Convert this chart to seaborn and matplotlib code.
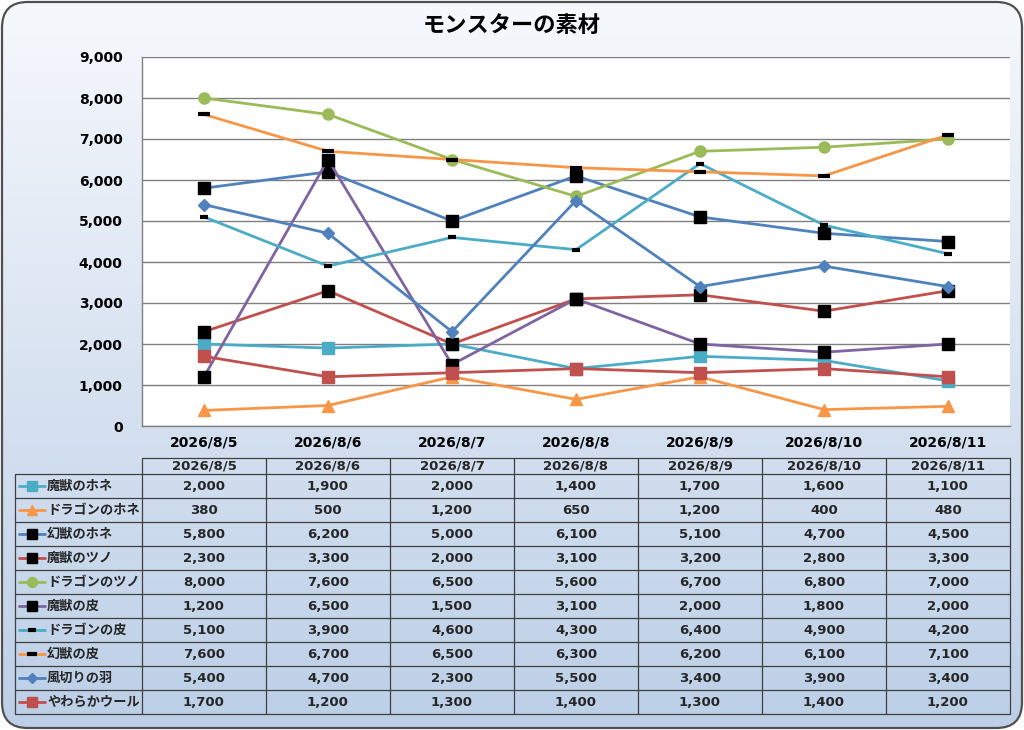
import numpy as np
import pandas as pd
import matplotlib
matplotlib.use("Agg")
import matplotlib.pyplot as plt
from matplotlib.patches import FancyBboxPatch
from matplotlib.ticker import FuncFormatter
from matplotlib.colors import LinearSegmentedColormap
import seaborn as sns

sns.set_theme(style="white")
plt.rcParams['font.family'] = ['Noto Sans CJK JP', 'DejaVu Sans']

title = "モンスターの素材"
dates = ["2026/8/5", "2026/8/6", "2026/8/7", "2026/8/8", "2026/8/9", "2026/8/10", "2026/8/11"]
series_names = ["魔獣のホネ", "ドラゴンのホネ", "幻獣のホネ", "魔獣のツノ", "ドラゴンのツノ",
                "魔獣の皮", "ドラゴンの皮", "幻獣の皮", "風切りの羽", "やわらかウール"]
majuu_hone = [2000, 1900, 2000, 1400, 1700, 1600, 1100]
dragon_hone = [380, 500, 1200, 650, 1200, 400, 480]
genjuu_hone = [5800, 6200, 5000, 6100, 5100, 4700, 4500]
majuu_tsuno = [2300, 3300, 2000, 3100, 3200, 2800, 3300]
dragon_tsuno = [8000, 7600, 6500, 5600, 6700, 6800, 7000]
majuu_kawa = [1200, 6500, 1500, 3100, 2000, 1800, 2000]
dragon_kawa = [5100, 3900, 4600, 4300, 6400, 4900, 4200]
genjuu_kawa = [7600, 6700, 6500, 6300, 6200, 6100, 7100]
kazekiri_hane = [5400, 4700, 2300, 5500, 3400, 3900, 3400]
yawaraka_wool = [1700, 1200, 1300, 1400, 1300, 1400, 1200]
values = [majuu_hone, dragon_hone, genjuu_hone, majuu_tsuno, dragon_tsuno,
          majuu_kawa, dragon_kawa, genjuu_kawa, kazekiri_hane, yawaraka_wool]

TEAL, ORANGE, BLUE, RED, GREEN, PURPLE = "#4bacc6", "#f79646", "#4f81bd", "#c0504d", "#9bbb59", "#8064a2"
styles = [
    dict(color=TEAL, marker="s", ms=8, mfc=TEAL, mec=TEAL, mew=1),
    dict(color=ORANGE, marker="^", ms=8, mfc=ORANGE, mec=ORANGE, mew=1),
    dict(color=BLUE, marker="s", ms=8, mfc="black", mec="black", mew=1),
    dict(color=RED, marker="s", ms=8, mfc="black", mec="black", mew=1),
    dict(color=GREEN, marker="o", ms=8, mfc=GREEN, mec=GREEN, mew=1),
    dict(color=PURPLE, marker="s", ms=8, mfc="black", mec="black", mew=1),
    dict(color=TEAL, marker="_", ms=6, mfc="black", mec="black", mew=3),
    dict(color=ORANGE, marker="_", ms=8, mfc="black", mec="black", mew=3),
    dict(color=BLUE, marker="D", ms=6, mfc=BLUE, mec=BLUE, mew=1),
    dict(color=RED, marker="s", ms=8, mfc=RED, mec=RED, mew=1),
]

NUMFONT = dict(family=["DejaVu Sans"], fontweight="bold", fontsize=9.5)

W, H = 1024, 730
fig = plt.figure(figsize=(W / 100, H / 100), dpi=100)
fig.patch.set_facecolor("white")

def fa(l, t, r, b):
    return [l / W, 1 - b / H, (r - l) / W, (b - t) / H]

# background with gradient and rounded border
bg = fig.add_axes([0, 0, 1, 1], zorder=-10)
bg.set_xlim(0, 1); bg.set_ylim(0, 1); bg.axis("off")
grad = np.linspace(0, 1, 256).reshape(-1, 1)
cmap = LinearSegmentedColormap.from_list("g", ["#f6f8fc", "#bccfe7"])
im = bg.imshow(grad, cmap=cmap, aspect="auto", extent=[0, 1, 0, 1], origin="upper")
box = FancyBboxPatch((2 / W, 2 / H), 1 - 4 / W, 1 - 4 / H,
                     boxstyle="round,pad=0,rounding_size=0.025", mutation_aspect=W / H,
                     transform=bg.transAxes, facecolor="none", edgecolor="#505050", lw=1.6)
bg.add_patch(box)
im.set_clip_path(box)

fig.text(512 / W, 1 - 25 / H, title, ha="center", va="center", fontsize=16, fontweight="bold", color="black")

# main chart
ax = fig.add_axes(fa(142, 57, 1010, 426))
ax.set_facecolor("white")
x_idx = np.arange(len(dates))
for name, vals, st in zip(series_names, values, styles):
    sns.lineplot(x=x_idx, y=vals, ax=ax, color=st["color"], linewidth=2.0,
                 marker=st["marker"], markersize=st["ms"], markerfacecolor=st["mfc"],
                 markeredgecolor=st["mec"], markeredgewidth=st["mew"], zorder=3)
ax.set_xlim(-0.5, len(dates) - 0.5)
ax.set_ylim(0, 9000)
ax.set_yticks(np.arange(0, 9001, 1000))
ax.yaxis.set_major_formatter(FuncFormatter(lambda v, p: f"{int(v):,}"))
ax.set_xticks(x_idx)
ax.set_xticklabels(dates)
ax.grid(axis="y", color="#808080", lw=1.0)
ax.grid(axis="x", visible=False)
ax.set_axisbelow(True)
for s in ["top", "right"]:
    ax.spines[s].set_visible(False)
for s in ["left", "bottom"]:
    ax.spines[s].set_color("#808080"); ax.spines[s].set_linewidth(1.0)
ax.tick_params(axis="both", length=0, colors="black", pad=14)
ax.tick_params(axis="x", pad=7)
for lab in ax.get_xticklabels() + ax.get_yticklabels():
    lab.set_fontfamily(NUMFONT["family"])
    lab.set_fontweight("bold")
    lab.set_fontsize(10)
ax.set_xlabel(""); ax.set_ylabel("")

# data table
tb = fig.add_axes(fa(0, 450, W, 720))
tb.set_xlim(0, W); tb.set_ylim(720, 450); tb.axis("off")
lc = "#404040"
col0, col1, cw = 15, 142, 124
top_h, row0, rh = 458, 474, 24
nrow = len(series_names)
bottom = row0 + rh * nrow
right = col1 + cw * len(dates)
tb.plot([col1, right], [top_h, top_h], color=lc, lw=0.9)
for i in range(nrow + 1):
    y = row0 + i * rh
    tb.plot([col0, right], [y, y], color=lc, lw=0.9)
tb.plot([col0, col0], [row0, bottom], color=lc, lw=0.9)
for k in range(len(dates) + 1):
    x = col1 + k * cw
    tb.plot([x, x], [top_h, bottom], color=lc, lw=0.9)
for k, d in enumerate(dates):
    tb.text(col1 + cw * (k + 0.5), (top_h + row0) / 2, d, ha="center", va="center", **NUMFONT)
for i, (name, vals, st) in enumerate(zip(series_names, values, styles)):
    yc = row0 + rh * (i + 0.5)
    tb.plot([19, 45], [yc, yc], color=st["color"], lw=2.0)
    tb.plot([32], [yc], marker=st["marker"], ms=st["ms"] * 0.9, mfc=st["mfc"],
            mec=st["mec"], mew=st["mew"], ls="none")
    tb.text(47, yc, name, ha="left", va="center", fontsize=9.5, fontweight="bold")
    for k, v in enumerate(vals):
        tb.text(col1 + cw * (k + 0.5), yc, f"{v:,}", ha="center", va="center", **NUMFONT)

fig.savefig("out.png", dpi=100)
